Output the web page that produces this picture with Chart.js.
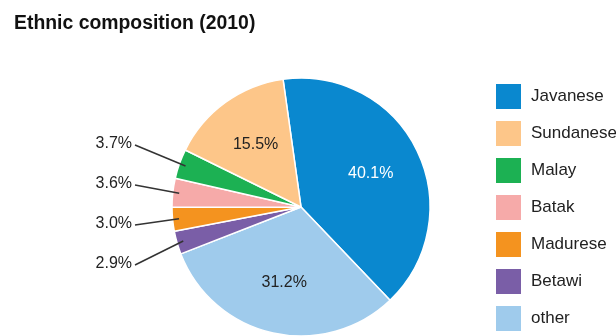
<!DOCTYPE html>
<html>
<head>
<meta charset="utf-8">
<script src="https://cdn.jsdelivr.net/npm/chart.js@4/dist/chart.umd.min.js"></script>
<style>
  html, body { margin: 0; padding: 0; background: #fff; }
  canvas { display: block; }
</style>
</head>
<body>
<canvas id="chart" width="616" height="336"></canvas>
<script>
// legend order (counter-clockwise around the pie, starting at Javanese)
var categories = ['Javanese', 'Sundanese', 'Malay', 'Batak', 'Madurese', 'Betawi', 'other'];
var shares = [40.1, 15.5, 3.7, 3.6, 3.0, 2.9, 31.2];
var colors = ['#0a88cf', '#fdc689', '#1cb153', '#f6aaa9', '#f4931f', '#7a5ea7', '#9fcbec'];
var title = 'Ethnic composition (2010)';

// the pie runs clockwise, so keep Javanese first and flip the rest
var drawOrder = [0].concat(categories.slice(1).map(function(c, i) { return i + 1; }).reverse());

var FONT = '"Liberation Sans", Arial, Helvetica, sans-serif';

var labelsPlugin = {
  id: 'pieLabels',
  afterDraw: function(chart) {
    var ctx = chart.ctx;
    var meta = chart.getDatasetMeta(0);

    ctx.save();
    // title
    ctx.fillStyle = '#111';
    ctx.font = 'bold 19.4px ' + FONT;
    ctx.textAlign = 'left';
    ctx.textBaseline = 'alphabetic';
    ctx.fillText(title, 14, 29);

    // percent labels inside the big slices
    meta.data.forEach(function(arc, k) {
      var idx = drawOrder[k];
      var v = shares[idx];
      if (v < 10) return;
      var p = arc.getProps(['x', 'y', 'startAngle', 'endAngle', 'outerRadius'], true);
      var mid = (p.startAngle + p.endAngle) / 2;
      var r = p.outerRadius * 0.6;
      ctx.font = '16px ' + FONT;
      ctx.textBaseline = 'middle';
      ctx.fillStyle = idx === 0 ? '#fff' : '#222';
      ctx.textAlign = 'center';
      ctx.fillText(v.toFixed(1) + '%', p.x + Math.cos(mid) * r, p.y + Math.sin(mid) * r);
    });

    // small slices get a column of labels on the left with leader lines
    var small = [];
    meta.data.forEach(function(arc, k) {
      if (shares[drawOrder[k]] < 10) small.push({ arc: arc, idx: drawOrder[k] });
    });
    small.sort(function(a, b) { return a.idx - b.idx; });
    small.forEach(function(s, i) {
      var p = s.arc.getProps(['x', 'y', 'startAngle', 'endAngle', 'outerRadius'], true);
      var mid = (p.startAngle + p.endAngle) / 2;
      var tx = p.x - p.outerRadius - 40;
      var ty = p.y - 63 + i * 40;
      ctx.fillStyle = '#222';
      ctx.textAlign = 'right';
      ctx.textBaseline = 'middle';
      ctx.font = '16px ' + FONT;
      ctx.fillText(shares[s.idx].toFixed(1) + '%', tx, ty);
      var r = p.outerRadius * 0.95;
      ctx.beginPath();
      ctx.moveTo(tx + 3, ty + 1);
      ctx.lineTo(p.x + Math.cos(mid) * r, p.y + Math.sin(mid) * r);
      ctx.strokeStyle = '#333';
      ctx.lineWidth = 1.5;
      ctx.stroke();
    });

    // legend
    categories.forEach(function(c, i) {
      var y = 84 + i * 37;
      ctx.fillStyle = colors[i];
      ctx.fillRect(496, y, 25, 25);
      ctx.fillStyle = '#222';
      ctx.font = '17px ' + FONT;
      ctx.textAlign = 'left';
      ctx.textBaseline = 'middle';
      ctx.fillText(c, 531, y + 12);
    });
    ctx.restore();
  }
};

new Chart(document.getElementById('chart'), {
  type: 'pie',
  data: {
    labels: drawOrder.map(function(i) { return categories[i]; }),
    datasets: [{
      data: drawOrder.map(function(i) { return shares[i]; }),
      backgroundColor: drawOrder.map(function(i) { return colors[i]; }),
      borderColor: '#fff',
      borderWidth: 1.5,
      radius: 129
    }]
  },
  options: {
    responsive: false,
    animation: false,
    events: [],
    rotation: -8,
    layout: { padding: { top: 78, bottom: 0, left: 172, right: 186 } },
    plugins: {
      legend: { display: false },
      title: { display: false },
      tooltip: { enabled: false }
    }
  },
  plugins: [labelsPlugin]
});
</script>
</body>
</html>
